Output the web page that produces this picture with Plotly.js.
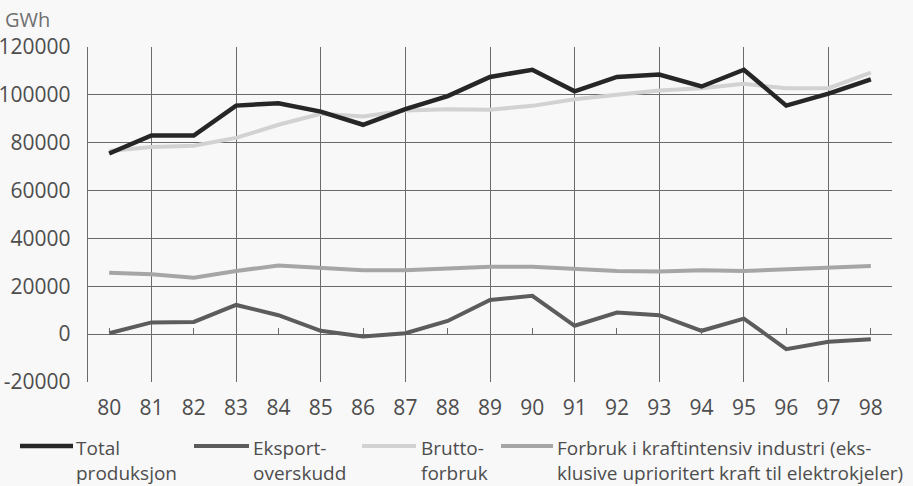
<!DOCTYPE html>
<html>
<head>
<meta charset="utf-8">
<script src="https://cdn.plot.ly/plotly-3.0.1.min.js"></script>
<style>html,body{margin:0;padding:0;background:#f8f8f8;}#chart{width:913px;height:486px;}</style>
</head>
<body>
<div id="chart"></div>
<script>
// Years (x)
const years = [80,81,82,83,84,85,86,87,88,89,90,91,92,93,94,95,96,97,98];
const yearLabels = ["80","81","82","83","84","85","86","87","88","89","90","91","92","93","94","95","96","97","98"];
// Series values (GWh)
const totalProduksjon = [75500,83000,83000,95500,96500,93000,87500,94000,99500,107500,110500,101500,107500,108500,103500,110500,95500,100500,106500];
const eksportOverskudd = [400,4900,5100,12200,7900,1400,-1000,400,5500,14300,16000,3500,9000,7900,1400,6500,-6250,-3200,-2100];
const bruttoForbruk = [76500,78200,78700,82000,87500,92100,91000,93500,94000,93800,95400,98200,100000,101800,102800,104600,102800,102800,109300];
const forbrukKraftintensiv = [25700,25000,23600,26400,28700,27800,26700,26700,27400,28200,28200,27100,26400,26200,26700,26400,27100,27400,28500];
// Labels
const seriesNames = ["Total<br>produksjon","Eksport-<br>overskudd","Brutto-<br>forbruk","Forbruk i kraftintensiv industri (eks-<br>klusive uprioritert kraft til elektrokjeler)"];
const yTicks = [-20000,0,20000,40000,60000,80000,100000,120000];
const gridYears = [81,83,85,87,89,91,93,95,97];
const tickYears = [80,82,84,86,88,90,92,94,96,98];

const styles = [
  {color:'#262626', width:4.5},
  {color:'#5c5c5c', width:4},
  {color:'#d2d2d2', width:4},
  {color:'#a6a6a6', width:4}
];
const seriesData = [totalProduksjon, eksportOverskudd, bruttoForbruk, forbrukKraftintensiv];
const drawOrder = [2,3,1,0];

const traces = drawOrder.map(i => ({
  x: years, y: seriesData[i], type:'scatter', mode:'lines',
  name: seriesNames[i], line:{color:styles[i].color, width:styles[i].width, shape:'linear'},
  showlegend:false, hoverinfo:'skip'
}));

// plot area pixel geometry
const L = 88, R = 892, T = 47, B = 382;
const px = x => (x - L) / (R - L);
const py = y => (B - y) / (B - T);

const fam = '"Open Sans", "Noto Sans", sans-serif';
const font = {family:fam, size:21, color:'#4d4d4d'};
const legendFont = {family:fam, size:19, color:'#4d4d4d'};
const gridColor = '#6a6a6a';

const legendPos = [
  {x0:20, x1:73, tx:74},
  {x0:194, x1:249, tx:251},
  {x0:362, x1:416, tx:419},
  {x0:501, x1:553, tx:555}
];
const shapes = legendPos.map((p,i) => ({
  type:'line', xref:'paper', yref:'paper',
  x0:px(p.x0), x1:px(p.x1), y0:py(446), y1:py(446),
  line:{color:styles[i].color, width:styles[i].width}
}));
const annotations = legendPos.map((p,i) => ({
  xref:'paper', yref:'paper', x:px(p.tx), y:py(433), xanchor:'left', yanchor:'top',
  align:'left', text:seriesNames[i], showarrow:false, font:legendFont
}));
annotations.push({
  xref:'paper', yref:'paper', x:px(3), y:py(20), xanchor:'left', yanchor:'middle',
  text:'GWh', showarrow:false, font:{family:fam, size:20, color:'#707070'}
});

const layout = {
  width:913, height:486,
  margin:{l:L, r:913-R, t:T, b:486-B},
  paper_bgcolor:'#f8f8f8', plot_bgcolor:'#f8f8f8',
  font:font,
  showlegend:false,
  xaxis:{range:[79.5,98.5], tickvals:years, ticktext:yearLabels, showgrid:false, zeroline:false,
         showline:false, ticks:'', ticklabelstandoff:11, tickfont:font, fixedrange:true},
  xaxis2:{overlaying:'x', range:[79.5,98.5], tickvals:gridYears, showgrid:true, gridcolor:gridColor, gridwidth:1,
          showticklabels:false, ticks:'', zeroline:false, showline:false, anchor:'y', side:'bottom'},
  xaxis3:{overlaying:'x', range:[79.5,98.5], tickvals:tickYears, showgrid:false, showticklabels:false,
          ticks:'inside', ticklen:7, tickcolor:gridColor, tickwidth:1, zeroline:false, showline:false,
          anchor:'free', position:py(334.5), side:'bottom'},
  yaxis:{range:[-20000,120000], tickvals:yTicks, ticktext:yTicks.map(String), showgrid:true, gridcolor:gridColor,
         gridwidth:1, zeroline:false, showline:true, linecolor:gridColor, linewidth:1.2, ticks:'',
         ticklabelstandoff:12, tickfont:font, fixedrange:true},
  shapes:shapes,
  annotations:annotations
};

// helper traces to activate grid/tick axes
traces.unshift({x:[80], y:[null], xaxis:'x2', yaxis:'y', type:'scatter', mode:'lines', showlegend:false, hoverinfo:'skip'});
traces.unshift({x:[80], y:[null], xaxis:'x3', yaxis:'y', type:'scatter', mode:'lines', showlegend:false, hoverinfo:'skip'});

Plotly.newPlot('chart', traces, layout, {staticPlot:true, displayModeBar:false});
</script>
</body>
</html>
